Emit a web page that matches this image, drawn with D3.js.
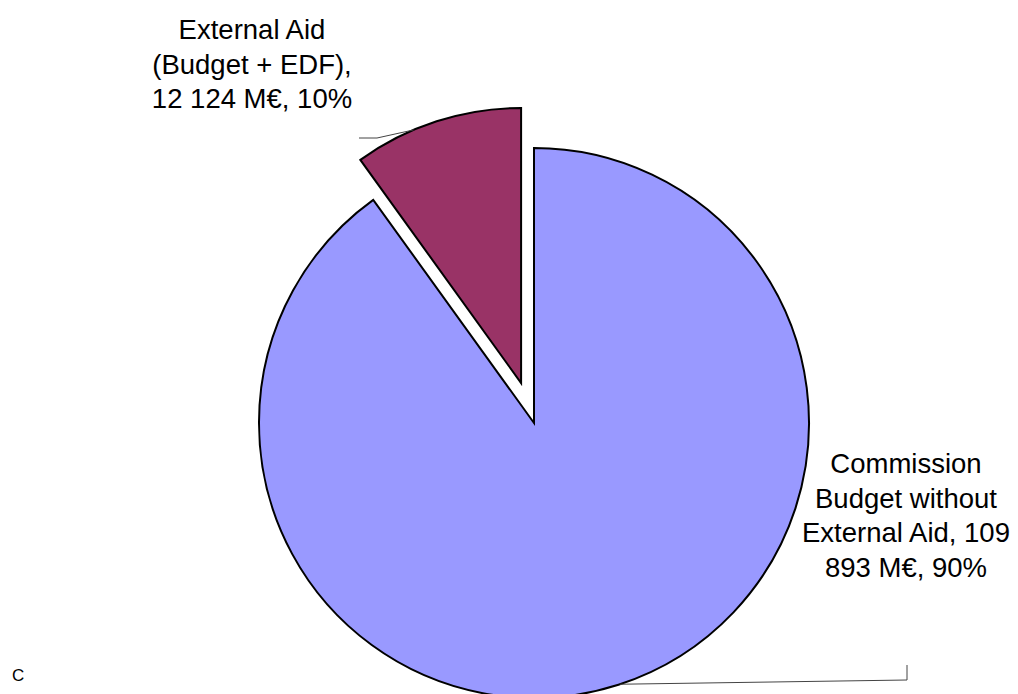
<!DOCTYPE html>
<html>
<head>
<meta charset="utf-8">
<script src="https://cdn.jsdelivr.net/npm/d3@7"></script>
<style>
  body { margin: 0; background: #fff; }
  svg { display: block; font-family: "Liberation Sans", Arial, sans-serif; }
</style>
</head>
<body>
<div id="chart"></div>
<script>
// slice data, in drawing order (clockwise from 12 o'clock)
const categories = ["Commission Budget without External Aid", "External Aid (Budget + EDF)"];
const values = [109893, 12124];
const colors = ["#9999FF", "#993366"];
const labelLines = [
    ["Commission", "Budget without", "External Aid, 109", "893 M€, 90%"],
    ["External Aid", "(Budget + EDF),", "12 124 M€, 10%"]
];
const exploded = [false, true];

const width = 1018, height = 694;
const cx = 534, cy = 423, radius = 275, explode = 42;

const svg = d3.select("#chart")
    .append("svg")
    .attr("width", width)
    .attr("height", height);

const pie = d3.pie().sort(null).startAngle(0).endAngle(2 * Math.PI);
const arcs = pie(values);
const arc = d3.arc().innerRadius(0).outerRadius(radius);

// offset of a slice along its bisector
function offset(d, i) {
    if (!exploded[i]) return [0, 0];
    const mid = (d.startAngle + d.endAngle) / 2;
    return [explode * Math.sin(mid), -explode * Math.cos(mid)];
}

const g = svg.append("g").attr("transform", "translate(" + cx + "," + cy + ")");

g.selectAll("path.slice")
    .data(arcs)
    .enter()
    .append("path")
    .attr("class", "slice")
    .attr("transform", (d, i) => "translate(" + offset(d, i) + ")")
    .attr("d", arc)
    .attr("fill", (d, i) => colors[i])
    .attr("stroke", "#000")
    .attr("stroke-width", 2)
    .attr("stroke-linejoin", "miter");

// point on a slice's outer edge at a given angle
function edgePoint(i, angle) {
    const o = offset(arcs[i], i);
    return [o[0] + radius * Math.sin(angle), o[1] - radius * Math.cos(angle)];
}

// leader lines
const deg = Math.PI / 180;
const leaders = [
    [edgePoint(0, 161.8 * deg), [907 - cx, 680 - cy], [907 - cx, 665 - cy]],
    [edgePoint(1, 337 * deg), [377 - cx, 138 - cy], [359 - cx, 138 - cy]]
];

g.selectAll("path.leader")
    .data(leaders)
    .enter()
    .append("path")
    .attr("class", "leader")
    .attr("d", d3.line())
    .attr("fill", "none")
    .attr("stroke", "#444")
    .attr("stroke-width", 1);

// labels
const labelPos = [[906, 473], [252, 39]];
const lineHeight = 34.5;

labelLines.forEach((lines, i) => {
    const t = svg.append("text")
        .attr("text-anchor", "middle")
        .attr("font-size", "27.5px")
        .attr("fill", "#000");
    lines.forEach((s, k) => {
        t.append("tspan")
            .attr("x", labelPos[i][0])
            .attr("y", labelPos[i][1] + k * lineHeight)
            .text(s);
    });
});

svg.append("text")
    .attr("x", 12)
    .attr("y", 681)
    .attr("font-size", "17px")
    .attr("fill", "#000")
    .text("C");
</script>
</body>
</html>
